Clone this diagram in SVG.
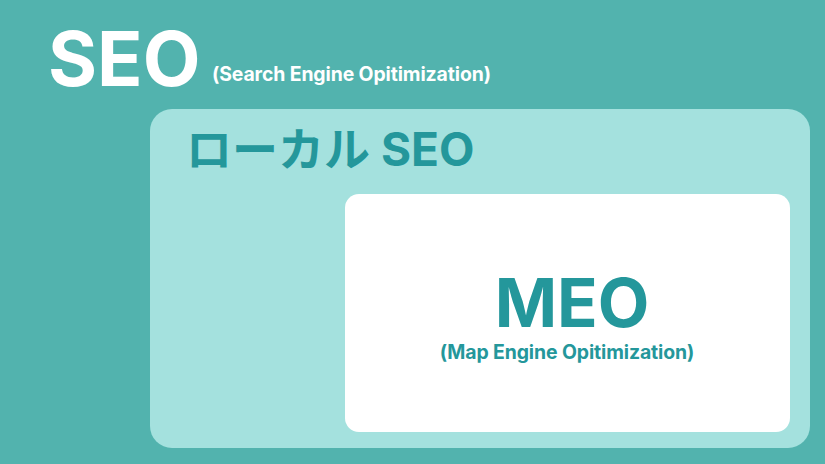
<svg xmlns="http://www.w3.org/2000/svg" width="825" height="464" viewBox="0 0 825 464">
<style>
.t{font-family:Inter,"Noto Sans CJK JP","Liberation Sans",sans-serif;font-weight:700}
.w{fill:#ffffff}
.d{fill:#24979b}
</style>
<rect x="0" y="0" width="825" height="464" fill="#52b3ae"/>
<g id="seo">
<text class="t w" x="48" y="86" font-size="75">SEO</text>
<text class="t w" x="212" y="81" font-size="19.4" letter-spacing="-0.1">(Search Engine Opitimization)</text>
</g>
<g id="local-seo">
<rect x="150" y="109" width="660" height="339" rx="22" fill="#a4e1de"/>
<text class="t d" x="186" y="166" font-size="46">ローカル SEO</text>
</g>
<g id="meo">
<rect x="345" y="194" width="445" height="238" rx="14" fill="#ffffff"/>
<text class="t d" x="572" y="327" font-size="67" text-anchor="middle">MEO</text>
<text class="t d" x="567" y="359" font-size="19.4" letter-spacing="-0.1" text-anchor="middle">(Map Engine Opitimization)</text>
</g>
<g id="connectors"/>
</svg>
